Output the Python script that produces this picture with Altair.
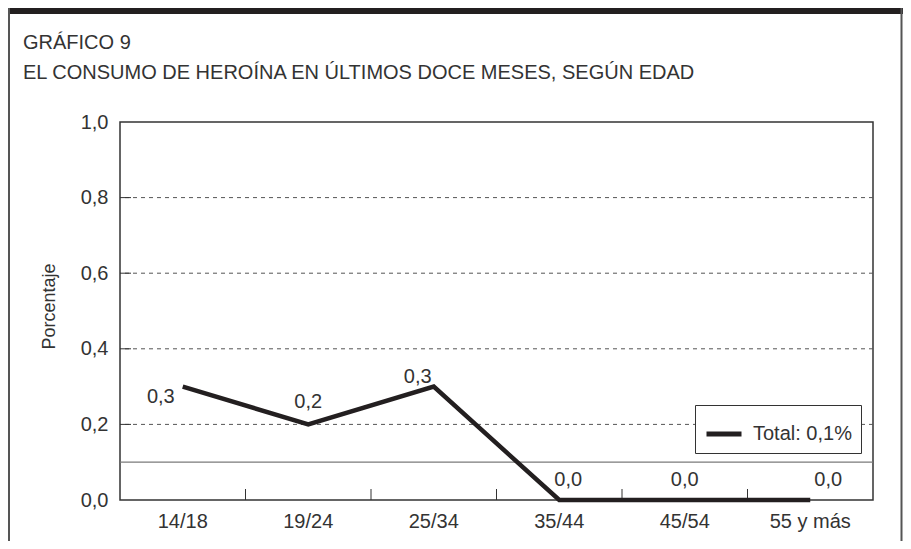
import altair as alt
import pandas as pd

# ---- data ----
categorias = ["14/18", "19/24", "25/34", "35/44", "45/54", "55 y más"]
valores = [0.3, 0.2, 0.3, 0.0, 0.0, 0.0]
total_valor = 0.1
serie_nombre = "Total: 0,1%"
y_ticks = [0.0, 0.2, 0.4, 0.6, 0.8, 1.0]
grid_vals = [0.2, 0.4, 0.6, 0.8]
titulo_1 = "GRÁFICO 9"
titulo_2 = "EL CONSUMO DE HEROÍNA EN ÚLTIMOS DOCE MESES, SEGÚN EDAD"
eje_y_titulo = "Porcentaje"

def fmt(v):
    return f"{v:.1f}".replace(".", ",")

df = pd.DataFrame({
    "categoria": categorias,
    "valor": valores,
    "etiqueta": [fmt(v) for v in valores],
    "serie": [serie_nombre] * len(categorias),
})
df_total = pd.DataFrame({"valor": [total_valor]})
df_grid = pd.DataFrame({"valor": grid_vals})
df_xticks = pd.DataFrame({"categoria": categorias[1:]})

W, H = 753, 378
PAD_L, PAD_T = 112, 114
TOTAL_W, TOTAL_H = 895, 533
FONT = "Liberation Sans"
INK = "#333333"
FS = 20

xscale = alt.Scale(type="band", domain=categorias, paddingInner=0, paddingOuter=0)
yscale = alt.Scale(domain=[0, 1], nice=False)

x_axis = alt.Axis(labelFontSize=FS, labelColor=INK, labelFont=FONT,
                  tickSize=0, domain=False, labelPadding=11, labelAngle=0,
                  labelAlign="center", bandPosition=0.5)
X = alt.X("categoria:N", scale=xscale, sort=categorias, title=None, axis=x_axis)
Y = alt.Y("valor:Q", scale=yscale, title=eje_y_titulo,
          axis=alt.Axis(values=y_ticks, grid=False, tickSize=0,
                        domain=False, labelPadding=12, labelFontSize=FS, labelColor=INK,
                        labelFont=FONT,
                        labelExpr="replace(format(datum.value, '.1f'), '.', ',')",
                        titleFontSize=18, titleFont=FONT, titleFontWeight="normal",
                        titleColor=INK, titlePadding=22, titleY=184))

dummy = alt.Data(values=[{"a": 1}])

grid = alt.Chart(df_grid).mark_rule(color="#555555", strokeWidth=1, strokeDash=[4, 4]).encode(
    y=Y)
yticks_in = alt.Chart(df_grid).mark_rule(color="#333333", strokeWidth=1).encode(
    y=Y, x=alt.value(0), x2=alt.value(11))
total_line = alt.Chart(df_total).mark_rule(color="#7a7a7a", strokeWidth=1.2).encode(y=Y)
xticks_in = alt.Chart(df_xticks).mark_rule(color="#333333", strokeWidth=1).encode(
    x=alt.X("categoria:N", scale=xscale, sort=categorias, bandPosition=0, title=None,
            axis=x_axis),
    y=alt.value(H), y2=alt.value(H - 11))

line = alt.Chart(df).mark_line(strokeWidth=4.5, strokeJoin="miter", strokeCap="butt").encode(
    x=X, y=Y,
    color=alt.Color("serie:N", scale=alt.Scale(range=["#231f20"]),
                    legend=alt.Legend(title=None, orient="none", legendX=575, legendY=283,
                                      symbolType="stroke", symbolStrokeWidth=5,
                                      symbolSize=1225, labelFontSize=FS, labelFont=FONT,
                                      labelColor=INK, labelOffset=9,
                                      padding=9, strokeColor="#333333", fillColor="white",
                                      symbolStrokeColor="#231f20")))

def etiqueta(cat, dx, dy, align="center"):
    return alt.Chart(df).transform_filter(alt.datum.categoria == cat).mark_text(
        dx=dx, dy=dy, align=align, baseline="middle", fontSize=FS, font=FONT,
        color=INK).encode(x=X, y=Y, text="etiqueta:N")

labels = [
    etiqueta("14/18", -8, 10, "right"),
    etiqueta("19/24", 0, -22),
    etiqueta("25/34", -16, -10),
    etiqueta("35/44", 9, -20),
    etiqueta("45/54", 0, -20),
    etiqueta("55 y más", 18, -20),
]

# ---- frame and title decorations ----
top_bar = alt.Chart(dummy).mark_rect(color="#231f20").encode(
    x=alt.value(-PAD_L), x2=alt.value(TOTAL_W - PAD_L),
    y=alt.value(-PAD_T), y2=alt.value(-PAD_T + 6))
left_border = alt.Chart(dummy).mark_rule(color="#555555", strokeWidth=2).encode(
    x=alt.value(-PAD_L + 1), y=alt.value(-PAD_T), y2=alt.value(TOTAL_H - PAD_T))
right_border = alt.Chart(dummy).mark_rule(color="#555555", strokeWidth=2).encode(
    x=alt.value(TOTAL_W - PAD_L - 1.5), y=alt.value(-PAD_T), y2=alt.value(TOTAL_H - PAD_T))
t1 = alt.Chart(dummy).mark_text(align="left", baseline="alphabetic", fontSize=FS, font=FONT,
                                color=INK).encode(
    x=alt.value(-97), y=alt.value(-73), text=alt.value(titulo_1))
t2 = alt.Chart(dummy).mark_text(align="left", baseline="alphabetic", fontSize=FS, font=FONT,
                                color=INK).encode(
    x=alt.value(-97), y=alt.value(-43), text=alt.value(titulo_2))

chart = alt.layer(
    grid, yticks_in, total_line, xticks_in, line, *labels,
    top_bar, left_border, right_border, t1, t2
).properties(
    width=W, height=H,
    background="white",
    autosize=alt.AutoSizeParams(type="none"),
    padding={"left": PAD_L, "top": PAD_T, "right": TOTAL_W - PAD_L - W,
             "bottom": TOTAL_H - PAD_T - H},
).configure_view(stroke="#333333", strokeWidth=1.5)

chart.save("out.html", embed_options={"renderer": "svg", "actions": False})
